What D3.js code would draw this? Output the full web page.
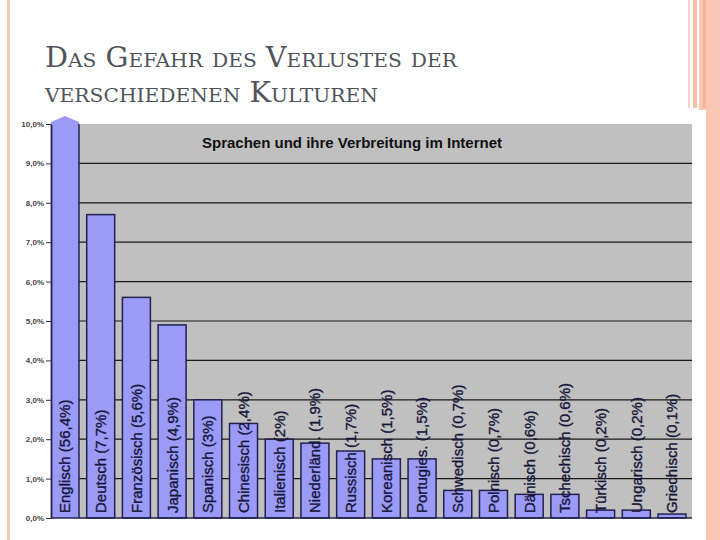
<!DOCTYPE html>
<html><head><meta charset="utf-8">
<script src="https://cdn.jsdelivr.net/npm/d3@7"></script>
<style>
html,body{margin:0;padding:0;background:#fff;}
svg{display:block;}
</style></head>
<body>
<script>
const categories = ["Englisch","Deutsch","Französisch","Japanisch","Spanisch","Chinesisch","Italienisch","Niederländ.","Russisch","Koreanisch","Portugies.","Schwedisch","Polnisch","Dänisch","Tschechisch","Türkisch","Ungarisch","Griechisch"];
const values = [56.4,7.7,5.6,4.9,3,2.4,2,1.9,1.7,1.5,1.5,0.7,0.7,0.6,0.6,0.2,0.2,0.1];
const barLabels = ["Englisch  (56,4%)","Deutsch (7,7%)","Französisch (5,6%)","Japanisch (4,9%)","Spanisch (3%)","Chinesisch (2,4%)","Italienisch (2%)","Niederländ. (1,9%)","Russisch (1,7%)","Koreanisch (1,5%)","Portugies. (1,5%)","Schwedisch (0,7%)","Polnisch (0,7%)","Dänisch (0,6%)","Tschechisch (0,6%)","Türkisch (0,2%)","Ungarisch (0,2%)","Griechisch (0,1%)"];
const yTicks = [0,1,2,3,4,5,6,7,8,9,10];
const yTickLabels = ["0,0%","1,0%","2,0%","3,0%","4,0%","5,0%","6,0%","7,0%","8,0%","9,0%","10,0%"];
const titleLines = ["Das Gefahr des Verlustes der","verschiedenen Kulturen"];
const chartTitle = "Sprachen und ihre Verbreitung im Internet";

const W = 720, H = 540;
const svg = d3.select("body").append("svg").attr("width", W).attr("height", H);

// slide decorations
svg.append("rect").attr("x",7).attr("y",0).attr("width",3).attr("height",H).attr("fill","#f6c6b6");
svg.append("rect").attr("x",688).attr("y",0).attr("width",2).attr("height",108).attr("fill","#f8d2c4");
svg.append("rect").attr("x",693).attr("y",0).attr("width",4).attr("height",108).attr("fill","#f6bfa9");
svg.append("rect").attr("x",699).attr("y",0).attr("width",21).attr("height",H).attr("fill","#f9c7b3");
svg.append("rect").attr("x",703).attr("y",0).attr("width",3).attr("height",108).attr("fill","#f3b49c");
// chart picture background
svg.append("rect").attr("x",30).attr("y",110).attr("width",676).attr("height",430).attr("fill","#fff");

// slide title
const tt = svg.append("g").attr("font-family","'DejaVu Serif', 'Liberation Serif', serif")
  .attr("fill","#50545a").style("font-variant","small-caps");
tt.selectAll("text").data(titleLines).join("text")
  .attr("x",45).attr("y",(d,i)=>67+i*35)
  .attr("font-size",27)
  .attr("textLength",(d,i)=>i===0?412:333).attr("lengthAdjust","spacingAndGlyphs")
  .text(d=>d);

// chart
const y = d3.scaleLinear().domain([0,10]).range([518,124]);
const x = d3.scaleBand().domain(categories).range([51,686]).paddingInner(0.216).paddingOuter(0);
const plotRight = 692;

svg.append("rect").attr("x",x.range()[0]).attr("y",y(10)).attr("width",plotRight-x.range()[0]).attr("height",y(0)-y(10)).attr("fill","#c0c0c0");

// gridlines
svg.append("g").selectAll("line").data(yTicks.filter(d=>d>0&&d<10)).join("line")
  .attr("x1",x.range()[0]).attr("x2",plotRight).attr("y1",d=>y(d)).attr("y2",d=>y(d))
  .attr("stroke","#1a1a1a").attr("stroke-width",1.2);

// bars
const yMax = 10;
const bars = svg.append("g");
categories.forEach((c,i)=>{
  const v = values[i];
  const x0 = x(c), bw = x.bandwidth();
  if (v > yMax) {
    const top = y(yMax) - 2, peak = y(yMax) - 8;
    bars.append("path")
      .attr("d",`M${x0},${y(0)}L${x0},${top}L${x0+bw/2},${peak}L${x0+bw},${top}L${x0+bw},${y(0)}Z`)
      .attr("fill","#9b9bf7");
    bars.append("line").attr("x1",x0+bw).attr("x2",x0+bw).attr("y1",y(yMax)).attr("y2",y(0)).attr("stroke","#22224e").attr("stroke-width",1.5);
  } else {
    bars.append("rect").attr("x",x0).attr("y",y(v)).attr("width",bw).attr("height",y(0)-y(v))
      .attr("fill","#9b9bf7").attr("stroke","#22224e").attr("stroke-width",1.5);
  }
});

// axes
const yAxis = d3.axisLeft(y).tickValues(yTicks).tickFormat((d,i)=>yTickLabels[i]).tickSize(5).tickSizeOuter(0);
const ga = svg.append("g").attr("transform",`translate(${x.range()[0]},0)`).call(yAxis);
ga.select(".domain").attr("stroke","#22224e").attr("stroke-width",1.8);
ga.selectAll(".tick line").attr("stroke","#333");
ga.selectAll(".tick text").attr("font-family","Arial, 'Liberation Sans', sans-serif").attr("font-size",8).attr("font-weight","bold").attr("fill","#444").attr("x",-7);
svg.append("line").attr("x1",x.range()[0]).attr("x2",plotRight).attr("y1",y(0)).attr("y2",y(0)).attr("stroke","#22224e").attr("stroke-width",1.5);

// bar labels
svg.append("g").selectAll("text").data(categories).join("text")
  .attr("transform",c=>`translate(${x(c)+x.bandwidth()/2},${y(0)-5}) rotate(-90)`)
  .attr("dy","0.36em")
  .attr("font-family","Arial, 'Liberation Sans', sans-serif").attr("font-size",15)
  .attr("fill","#17173a").attr("stroke","#17173a").attr("stroke-width",0.35)
  .text((c,i)=>barLabels[i]);

// chart title
svg.append("text").attr("x",352).attr("y",148).attr("text-anchor","middle")
  .attr("font-family","Arial, 'Liberation Sans', sans-serif").attr("font-size",15).attr("font-weight","bold")
  .attr("fill","#111").text(chartTitle);
</script>
</body></html>
